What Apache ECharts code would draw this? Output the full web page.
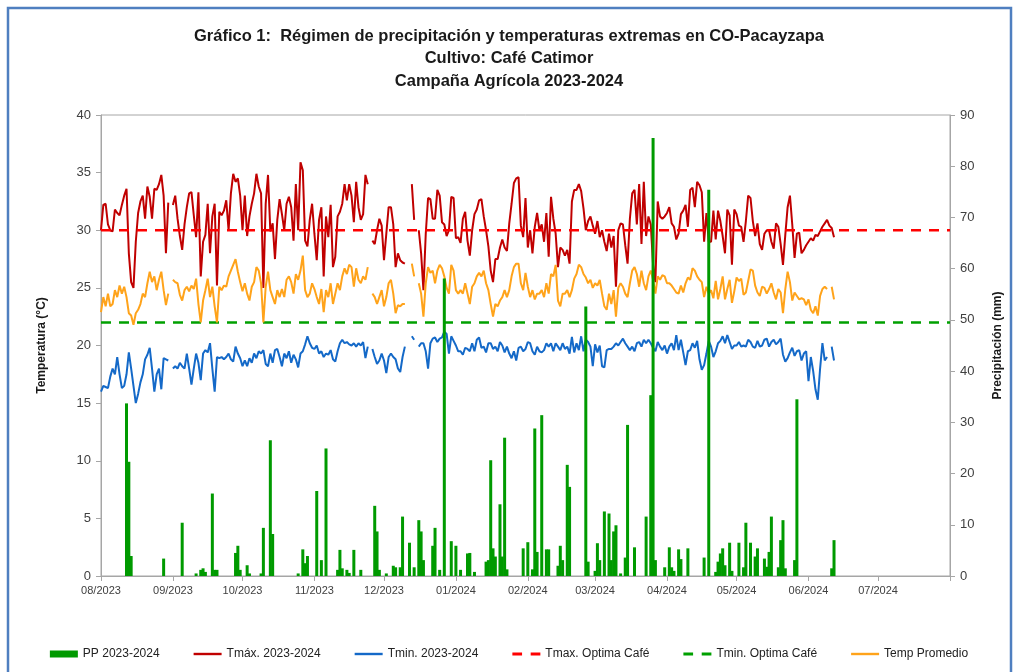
<!DOCTYPE html>
<html>
<head>
<meta charset="utf-8">
<script src="https://cdn.jsdelivr.net/npm/echarts@6/dist/echarts.min.js"></script>
<style>
html,body{margin:0;padding:0;background:#fff;}
#chart{width:1018px;height:672px;}
</style>
</head>
<body>
<div id="chart"></div>
<script>
// ---------- DATA ----------
const startDate = '2023-08-01';
const dayCount = 367; // 2023-08-01 .. 2024-08-01

// Daily Tmax (°C), from 2023-08-01, by month
const tmax = [
  // Aug
  30.0,32.2,32.3,30.5,30.0,29.9,31.8,31.5,31.3,32.2,33.0,33.6,28.0,25.5,25.0,29.0,31.5,32.5,33.0,31.0,33.8,32.9,31.0,33.6,33.5,34.0,34.8,33.0,28.0,32.4,null,
  // Sep
  32.2,33.0,31.0,29.5,28.3,30.5,32.0,33.2,33.3,31.3,29.4,33.3,26.0,29.0,29.6,32.3,28.0,31.2,32.3,25.2,31.6,31.3,31.7,32.6,30.0,33.2,34.9,34.2,34.5,33.0,
  // Oct
  30.0,33.0,29.5,31.2,32.3,33.2,34.9,33.8,33.2,25.0,32.3,34.8,29.9,30.6,27.5,30.9,32.7,31.4,30.0,32.3,32.9,32.0,29.1,34.0,30.0,35.9,35.2,29.1,28.6,30.9,32.3,
  // Nov
  29.7,27.4,30.9,32.0,26.0,31.2,29.4,32.2,26.8,27.7,31.2,31.6,32.3,34.0,32.6,34.0,33.0,30.7,34.2,32.0,30.9,31.4,34.8,34.0,null,29.1,28.8,30.0,31.0,30.4,
  // Dec
  27.4,29.7,32.0,32.0,30.5,26.8,28.0,27.4,27.2,27.1,null,null,34.0,30.9,null,30.0,28.0,24.8,29.7,32.8,32.7,31.0,31.0,33.5,33.0,30.7,30.5,29.5,30.0,32.9,32.8,
  // Jan
  29.3,29.4,28.9,31.0,31.6,29.1,27.8,30.0,31.4,31.8,32.6,32.7,31.2,30.0,28.6,26.5,25.5,27.5,27.5,28.5,29.2,28.5,28.2,30.6,32.3,34.1,34.5,34.6,30.4,29.4,32.8,
  // Feb
  28.5,30.0,28.0,30.3,31.5,30.0,30.5,29.0,31.5,27.7,32.9,31.0,29.7,26.8,28.5,28.3,27.8,28.3,27.1,32.5,33.5,33.5,34.0,33.4,31.9,30.0,30.8,31.2,30.4,
  // Mar
  29.7,30.8,29.4,30.0,29.0,28.2,29.7,28.5,29.5,25.1,30.0,30.6,30.5,28.7,27.1,31.0,33.2,33.5,30.5,34.0,28.8,34.2,29.5,31.2,30.5,27.0,25.5,32.5,31.2,31.0,31.2,
  // Apr
  31.5,32.0,30.6,30.3,29.2,29.7,31.4,31.7,32.2,30.3,33.5,33.7,32.0,34.2,33.9,33.3,29.0,31.5,29.0,29.0,31.7,29.2,31.7,30.8,29.5,28.0,31.8,31.3,27.0,31.8,
  // May
  31.4,30.4,30.3,29.0,30.8,33.0,32.8,30.8,29.5,30.6,28.8,28.3,29.7,30.0,30.0,29.0,28.4,30.6,30.3,28.8,27.0,29.6,32.0,33.0,30.5,27.6,29.7,29.8,28.0,28.3,28.7,
  // Jun
  29.0,29.3,29.1,29.6,29.5,29.9,30.3,30.6,30.9,30.4,30.2,29.4
];

// Daily Tmin (°C)
const tmin = [
  // Aug
  16.0,16.5,16.4,16.3,17.3,18.0,17.5,19.0,17.5,16.3,16.5,17.5,19.4,18.0,16.5,15.0,15.8,16.8,17.5,18.8,19.2,19.8,18.0,16.0,17.5,18.0,16.2,18.9,18.8,18.7,null,
  // Sep
  18.0,18.2,18.0,18.5,18.2,18.0,19.3,18.0,16.6,18.0,19.3,18.5,17.0,19.3,19.6,19.4,20.2,18.0,16.0,19.0,18.9,19.0,18.8,19.0,19.3,18.8,18.6,19.9,19.3,18.9,
  // Oct
  18.2,18.7,18.2,18.9,18.5,19.3,18.9,19.5,19.3,19.6,18.4,18.2,19.3,18.5,19.6,19.7,19.0,18.2,19.3,18.9,19.5,18.5,19.2,18.8,18.1,19.3,19.5,20.1,20.8,20.2,19.8,
  // Nov
  19.7,20.0,19.3,19.5,19.0,19.3,19.2,19.6,18.8,18.6,19.5,20.2,20.5,20.2,20.3,20.1,20.0,20.2,19.9,20.2,20.0,20.3,18.9,19.9,null,19.7,19.0,18.4,18.7,19.3,
  // Dec
  18.7,17.6,19.0,19.3,19.0,18.8,18.0,17.7,19.0,19.9,null,null,20.8,20.5,null,19.9,20.2,20.2,19.5,18.0,20.2,20.6,20.7,20.3,20.6,20.7,21.2,21.0,19.3,20.8,20.4,
  // Jan
  20.0,19.5,19.5,19.2,19.8,19.7,19.5,20.2,19.5,20.5,20.7,19.8,19.9,19.4,20.2,20.2,19.7,19.9,19.5,20.3,20.0,19.4,19.9,19.3,18.9,19.5,18.7,19.8,19.9,19.5,19.7,
  // Feb
  20.3,20.2,19.5,19.2,19.9,19.5,19.4,19.6,20.2,19.9,20.2,19.5,20.2,19.9,19.6,20.2,19.7,19.9,19.3,20.75,19.4,20.2,19.6,20.8,19.5,20.5,20.3,19.9,18.2,
  // Mar
  20.1,19.4,20.0,18.2,18.1,19.6,19.7,19.7,19.9,20.2,20.0,20.3,20.6,20.2,19.9,19.6,19.9,19.5,20.2,20.3,19.9,20.5,20.2,20.5,20.2,19.8,19.5,20.3,19.9,19.6,20.0,
  // Apr
  19.3,19.9,20.2,19.6,20.9,19.6,20.5,19.4,18.3,19.5,19.6,20.2,19.8,20.4,18.8,17.9,18.3,19.3,20.4,19.9,19.0,19.5,20.2,20.4,20.8,20.2,20.9,20.3,19.7,20.0,
  // May
  20.0,20.3,19.9,20.0,19.9,20.5,20.3,19.9,19.8,20.4,19.9,20.0,20.5,20.6,19.9,20.3,20.5,20.1,20.3,20.6,19.2,18.6,18.9,19.4,19.8,19.1,19.5,19.6,18.7,19.3,19.5,
  // Jun
  16.9,19.0,17.8,16.2,15.3,18.0,20.2,18.7,19.0,null,19.9,18.7
];

// Daily mean temperature (°C)
const tavg = [
  // Aug
  22.9,24.2,23.4,24.5,23.4,23.6,24.8,24.2,25.2,24.5,25.1,24.2,22.8,22.6,21.8,22.8,23.1,23.6,24.5,24.2,25.4,26.4,25.5,26.0,24.8,25.7,26.4,24.8,23.5,24.5,null,
  // Sep
  25.7,25.5,25.4,24.4,23.9,24.8,25.1,24.7,25.2,24.9,25.8,23.6,22.0,23.9,24.8,25.8,24.2,25.1,23.4,22.0,25.1,24.8,25.2,25.1,26.0,26.5,27.0,27.5,26.4,25.5,
  // Oct
  24.7,25.4,24.5,23.9,25.1,25.5,26.8,26.5,25.4,22.0,25.1,26.4,24.8,24.2,23.6,24.8,24.2,24.9,24.2,25.7,26.0,25.5,24.5,26.2,25.7,26.5,27.8,24.8,24.2,24.5,25.4,
  // Nov
  24.9,24.2,23.6,24.9,22.9,24.8,24.2,25.4,23.6,24.5,25.4,24.8,26.0,26.7,26.2,27.0,26.8,25.1,26.7,25.7,25.4,26.0,25.7,26.8,null,24.5,24.2,23.6,24.2,24.8,
  // Dec
  23.4,24.2,25.4,25.7,24.5,22.8,23.5,23.4,23.6,23.6,null,null,27.1,26.0,null,25.4,24.5,22.5,25.4,26.8,26.3,26.5,25.4,26.5,27.0,26.7,26.0,25.0,24.5,27.0,26.5,
  // Jan
  24.8,24.5,24.8,24.5,25.4,24.5,23.6,25.1,25.4,26.0,26.3,26.0,26.5,25.4,24.8,23.6,22.5,23.6,23.4,23.9,24.2,24.8,24.2,24.8,26.0,26.8,27.1,27.1,25.4,24.8,26.3,
  // Feb
  25.1,24.2,24.8,24.0,24.5,24.5,24.8,24.2,25.4,24.5,26.2,26.0,27.0,23.9,23.4,24.5,24.5,24.8,24.2,24.8,25.8,26.2,27.0,26.8,26.2,25.9,25.4,25.7,25.0,
  // Mar
  25.4,25.2,25.7,24.5,23.4,23.1,24.5,23.6,24.8,22.5,25.0,25.4,25.1,24.5,24.2,25.4,26.5,26.8,26.2,25.1,26.5,25.4,24.8,26.0,26.5,25.7,24.5,26.0,25.7,26.1,26.0,
  // Apr
  25.4,25.4,25.2,24.9,24.6,24.5,25.2,24.6,25.4,25.9,25.7,26.7,26.5,26.0,25.7,25.5,24.2,25.1,24.5,24.8,24.1,25.6,24.0,24.9,26.0,24.0,24.9,25.7,23.7,24.7,
  // May
  25.9,25.6,25.8,24.4,24.6,25.6,26.6,26.5,25.2,24.6,24.3,25.1,25.0,24.5,24.9,25.4,24.6,24.0,24.9,24.6,22.8,24.9,26.4,25.5,23.9,24.6,24.3,24.0,24.1,24.0,23.5,
  // Jun
  24.0,23.1,22.8,23.4,22.6,24.3,24.9,25.1,24.9,null,25.1,24.0
];

// Rainy days: day offset from 2023-08-01 and daily precipitation (mm)
const ppDay = [11,12,13,27,35,41,43,44,45,48,49,50,58,59,60,63,64,69,70,73,74,85,87,88,89,93,95,97,102,103,104,106,107,109,112,118,119,120,123,126,127,129,130,133,135,137,138,139,143,144,146,148,151,153,155,158,159,161,166,167,168,169,170,172,173,174,175,182,184,186,187,188,190,192,193,197,198,199,201,202,209,210,213,214,215,217,219,220,221,222,224,226,227,230,235,237,238,239,243,245,246,247,249,250,253,260,262,265,266,267,268,269,271,272,275,277,278,280,282,283,286,287,288,289,292,293,294,295,299,300,315,316];
const ppMm  = [33.7,22.3,3.9,3.4,10.4,0.5,1.2,1.5,0.8,16.1,1.2,1.2,4.5,5.9,1.2,2.1,0.5,0.5,9.4,26.5,8.2,0.5,5.2,2.5,3.9,16.6,3.1,24.9,1.2,5.1,1.5,1.2,0.6,5.1,1.2,13.7,8.7,1.2,0.5,2.0,1.7,1.7,11.6,6.5,1.7,10.9,8.7,3.1,5.9,9.4,1.2,58.1,6.8,5.9,1.2,4.4,4.5,0.8,2.8,3.1,22.6,5.4,3.8,14.0,3.8,27.0,1.3,5.4,6.6,1.3,28.8,4.7,31.4,5.2,5.2,2.0,5.9,3.1,21.7,17.4,52.6,2.8,1.0,6.4,3.1,12.6,12.2,3.1,8.7,9.9,0.5,3.6,29.5,5.6,11.6,35.3,85.5,3.1,1.7,5.6,1.7,1.0,5.2,3.3,5.4,3.6,75.4,0.8,2.8,4.4,5.4,2.1,6.5,1.0,6.5,1.7,10.4,6.5,3.8,5.4,3.4,1.8,4.7,11.6,1.7,7.0,10.9,1.5,3.1,34.5,1.5,7.0];

const tmaxOptima = 30; // °C
const tminOptima = 22; // °C

const seriesNames = ['PP 2023-2024','Tmáx. 2023-2024','Tmin. 2023-2024','Tmax. Optima Café','Tmin. Optima Café','Temp Promedio'];
const titleText = 'Gráfico 1:  Régimen de precipitación y temperaturas extremas en CO-Pacayzapa\nCultivo: Café Catimor\nCampaña Agrícola 2023-2024';

// ---------- BUILD ----------
const categories = [];
{
  const t0 = Date.parse(startDate + 'T00:00:00Z');
  for (let i = 0; i < dayCount; i++) {
    categories.push(new Date(t0 + i * 86400000).toISOString().slice(0, 10));
  }
}
const ppDaily = categories.map(() => null);
ppDay.forEach((d, i) => { ppDaily[d] = ppMm[i]; });
const lastCat = categories[categories.length - 1];

const isMonthStart = (idx, val) => val.slice(8) === '01' && idx < dayCount - 1;
const FONT = 'Liberation Sans, Arial, sans-serif';
const ICON_SOLID = 'path://M0,0 H28 V2.4 H0 Z';
const ICON_DASH = 'path://M0,0 H9 V2.8 H0 Z M17,0 H26 V2.8 H17 Z';

const chart = echarts.init(document.getElementById('chart'), null, {renderer: 'canvas'});
chart.setOption({
  animation: false,
  backgroundColor: '#ffffff',
  textStyle: {fontFamily: FONT},
  graphic: [{
    type: 'rect', silent: true, z: 100,
    shape: {x: 8, y: 8, width: 1003, height: 700},
    style: {fill: 'none', stroke: '#4f7fc0', lineWidth: 2.5}
  }],
  title: {
    text: titleText,
    left: 'center',
    top: 20,
    textStyle: {fontFamily: FONT, fontSize: 16.5, fontWeight: 'bold', color: '#1a1a1a', lineHeight: 22.5}
  },
  legend: {
    top: 643,
    left: 'center',
    itemWidth: 28,
    itemHeight: 9,
    itemGap: 34,
    textStyle: {fontFamily: FONT, fontSize: 12, color: '#222'},
    data: [
      {name: seriesNames[0], icon: 'path://M0,0 H36 V9 H0 Z'},
      {name: seriesNames[1], icon: ICON_SOLID},
      {name: seriesNames[2], icon: ICON_SOLID},
      {name: seriesNames[3], icon: ICON_DASH},
      {name: seriesNames[4], icon: ICON_DASH},
      {name: seriesNames[5], icon: ICON_SOLID}
    ]
  },
  grid: {left: 101, right: 68, top: 115, bottom: 96, show: true, borderColor: '#a6a6a6', borderWidth: 1},
  xAxis: {
    type: 'category',
    data: categories,
    boundaryGap: false,
    axisLine: {lineStyle: {color: '#a6a6a6'}},
    axisTick: {show: true, interval: (i, v) => v.slice(8) === '01', length: 5, lineStyle: {color: '#a6a6a6'}},
    axisLabel: {
      interval: isMonthStart,
      formatter: v => v.slice(5, 7) + '/' + v.slice(0, 4),
      fontSize: 11, color: '#404040', margin: 9, fontFamily: FONT
    },
    splitLine: {show: false}
  },
  yAxis: [{
    type: 'value', min: 0, max: 40, interval: 5, position: 'left',
    name: 'Temperatura (°C)', nameLocation: 'middle', nameRotate: 90, nameGap: 53,
    nameTextStyle: {fontSize: 12, fontWeight: 'bold', color: '#1a1a1a', fontFamily: FONT},
    axisLine: {show: true, lineStyle: {color: '#a6a6a6'}},
    axisTick: {show: true, length: 5, lineStyle: {color: '#a6a6a6'}},
    axisLabel: {fontSize: 13, color: '#404040', margin: 10, fontFamily: FONT},
    splitLine: {show: false}
  }, {
    type: 'value', min: 0, max: 90, interval: 10, position: 'right',
    name: 'Precipitación (mm)', nameLocation: 'middle', nameRotate: 90, nameGap: 42,
    nameTextStyle: {fontSize: 12, fontWeight: 'bold', color: '#1a1a1a', fontFamily: FONT},
    axisLine: {show: true, lineStyle: {color: '#a6a6a6'}},
    axisTick: {show: true, length: 5, lineStyle: {color: '#a6a6a6'}},
    axisLabel: {fontSize: 13, color: '#404040', margin: 10, fontFamily: FONT},
    splitLine: {show: false}
  }],
  series: [
    {
      name: seriesNames[0], type: 'bar', yAxisIndex: 1, data: ppDaily,
      barWidth: 3, barGap: '-100%', z: 6,
      itemStyle: {color: '#009a00'}
    },
    {
      name: seriesNames[1], type: 'line', data: tmax, symbol: 'none', connectNulls: false,
      lineStyle: {color: '#c00000', width: 2}, itemStyle: {color: '#c00000'}, z: 2
    },
    {
      name: seriesNames[2], type: 'line', data: tmin, symbol: 'none', connectNulls: false,
      lineStyle: {color: '#1469c8', width: 2}, itemStyle: {color: '#1469c8'}, z: 2
    },
    {
      name: seriesNames[3], type: 'line', symbol: 'none',
      data: [[categories[0], tmaxOptima], [lastCat, tmaxOptima]],
      lineStyle: {color: '#ff0000', width: 2.5, type: [10, 8]}, itemStyle: {color: '#ff0000'}, z: 3
    },
    {
      name: seriesNames[4], type: 'line', symbol: 'none',
      data: [[categories[0], tminOptima], [lastCat, tminOptima]],
      lineStyle: {color: '#00a000', width: 2.5, type: [10, 8]}, itemStyle: {color: '#00a000'}, z: 3
    },
    {
      name: seriesNames[5], type: 'line', data: tavg, symbol: 'none', connectNulls: false,
      lineStyle: {color: '#ffa31a', width: 2}, itemStyle: {color: '#ffa31a'}, z: 4
    }
  ]
});
</script>
</body>
</html>
